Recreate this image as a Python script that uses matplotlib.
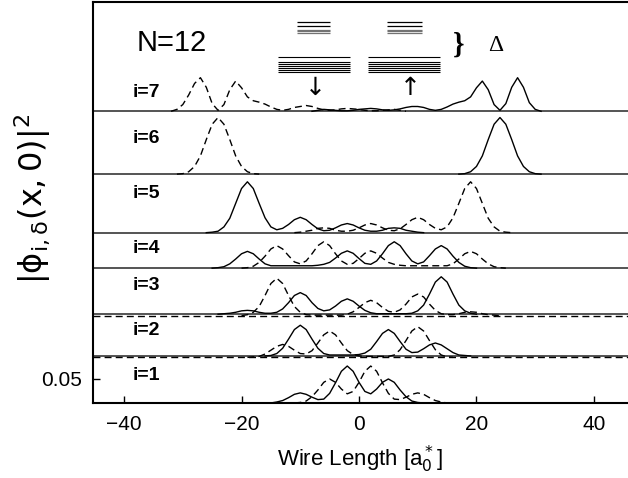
import numpy as np
import matplotlib.pyplot as plt

plt.rcParams['font.family'] = ['Liberation Sans', 'DejaVu Sans']

levels = [1, 2, 3, 4, 5, 6, 7]
offsets = [0.0, 0.098, 0.185, 0.281, 0.355, 0.477, 0.608]
dash_shift = [0.0, -0.003, -0.003, 0.0, 0.0, 0.0, 0.0]
label_y = [0.058, 0.152, 0.244, 0.323, 0.4375, 0.552, 0.648]

# curves sampled every 1 a0*, first x of each list below
solid_start = [-16, -16, -24, -25, -26, 17, -8]
dashed_start = [-11, -19, -20, -20, -11, -31, -32]

solid_1 = [0, 0, .002, .005, .011, .018, .021, .018, .012, .007, .008, .020, .042, .066,
           .077, .066, .043, .024, .019, .029, .043, .050, .043, .027, .013, .004, .001, 0]
dashed_1 = [0, .001, .004, .013, .027, .043, .050, .043, .029, .019, .024, .043, .066, .077,
            .066, .042, .020, .008, .007, .012, .018, .021, .018, .011, .005, .002, 0, 0]

solid_2 = [0, .001, .005, .016, .035, .055, .064, .055, .035, .016, .005, .002, .002, .002,
           .002, .002, .003, .006, .014, .030, .047, .055, .047, .030, .014, .007, .008, .015,
           .023, .027, .023, .015, .007, .002, .001, 0]
dashed_2 = [0, .001, .002, .007, .015, .023, .027, .023, .015, .008, .007, .014, .030, .047,
            .055, .047, .030, .014, .006, .003, .002, .002, .002, .002, .002, .005, .016, .035,
            .055, .064, .055, .035, .016, .005, .001, 0]

solid_3 = [0, .001, .002, .004, .007, .008, .007, .004, .002, .002, .004, .011, .024, .039,
           .045, .039, .024, .012, .007, .009, .017, .027, .032, .027, .017, .008, .003, .001,
           .001, .001, .001, .001, .001, .002, .007, .019, .042, .067, .078, .067, .042, .019,
           .007, .002, 0]
dashed_3 = [0, .002, .007, .019, .042, .067, .078, .067, .042, .019, .007, .002, .001, .001,
            .001, .001, .001, .001, .003, .008, .017, .027, .032, .027, .017, .009, .007, .012,
            .024, .039, .045, .039, .024, .011, .004, .002, .002, .004, .007, .008, .007, .004,
            .002, .001, 0]

solid_4 = [0, .001, .003, .009, .019, .030, .035, .030, .019, .009, .005, .005, .005, .005,
           .005, .005, .005, .005, .006, .008, .012, .021, .031, .036, .031, .020, .010, .008,
           .015, .030, .047, .055, .047, .030, .015, .009, .013, .026, .040, .047, .040, .025,
           .012, .004, .001, 0]
dashed_4 = [0, .001, .004, .012, .025, .040, .047, .040, .026, .013, .009, .015, .030, .047,
            .055, .047, .030, .015, .008, .010, .020, .031, .036, .031, .021, .012, .008, .006,
            .005, .005, .005, .005, .005, .005, .005, .005, .009, .019, .030, .035, .030, .019,
            .009, .003, .001, 0]

solid_5 = [0, .001, .003, .012, .030, .061, .092, .106, .092, .061, .031, .012, .006, .009,
           .017, .027, .032, .027, .017, .008, .004, .005, .010, .016, .019, .016, .010, .005,
           .003, .003, .005, .009, .010, .009, .005, .003, .001, 0]
dashed_5 = [0, .001, .003, .005, .009, .010, .009, .005, .003, .003, .005, .010, .016, .019,
            .016, .010, .005, .004, .008, .017, .027, .032, .027, .017, .009, .006, .012, .031,
            .061, .092, .106, .092, .061, .030, .012, .003, .001, 0]

solid_6 = [0, .001, .005, .016, .038, .072, .104, .118, .104, .072, .038, .016, .005, .001, 0]
dashed_6 = [0, .001, .005, .016, .038, .072, .104, .118, .104, .072, .038, .016, .005, .001, 0]

solid_7 = [0, .002, .004, .003, .002, .001, .001, .002, .004, .005, .006, .005, .003, .002,
           .003, .005, .008, .010, .010, .008, .004, .002, .004, .009, .015, .019, .022, .030,
           .049, .063, .045, .014, .002, .016, .050, .070, .050, .018, .004, 0]
dashed_7 = [0, .004, .014, .034, .058, .070, .050, .016, .002, .014, .045, .063, .049, .030,
            .022, .019, .015, .009, .004, .002, .004, .008, .010, .012, .010, .006, .003, .002,
            .003, .005, .006, .005, .004, .002, .001, .001, .002, .003, .004, .002, 0]

solids = [solid_1, solid_2, solid_3, solid_4, solid_5, solid_6, solid_7]
dasheds = [dashed_1, dashed_2, dashed_3, dashed_4, dashed_5, dashed_6, dashed_7]

# level scheme sketch at the top
lev_top = [0.7944, 0.7854, 0.7781, 0.7744, 0.7708]
lev_top_col = ['k', 'k', '0.45', '0.45', '0.45']
lev_bot = [0.7215, 0.7115, 0.7073, 0.7031, 0.6990, 0.6948, 0.6906]

fig = plt.figure(figsize=(6.28, 4.78), dpi=100)
ax = fig.add_axes([0.148, 0.157, 0.852, 0.839])

for k in range(len(levels)):
    off = offsets[k]
    ax.axhline(off, color='0.15', lw=1.1)
    if dash_shift[k] != 0:
        ax.axhline(off + dash_shift[k], color='k', lw=1.0, ls=(0, (5, 3)))
    ys = np.array(solids[k])
    xs = solid_start[k] + np.arange(len(ys))
    ax.plot(xs, off + ys, color='k', lw=1.0)
    yd = np.array(dasheds[k])
    xd = dashed_start[k] + np.arange(len(yd))
    ax.plot(xd, off + dash_shift[k] + yd, color='k', lw=1.0, ls=(0, (5, 3)))
    ax.text(-38.6, label_y[k], f'i={levels[k]}', fontsize=14, va='center', ha='left',
            fontweight='bold')

ax.text(-37.8, 0.750, 'N=12', fontsize=21, va='center', ha='left')

for y, c in zip(lev_top, lev_top_col):
    ax.hlines(y, -10.6, -4.9, color=c, lw=0.9)
    ax.hlines(y, 4.7, 10.7, color=c, lw=0.9)
for y in lev_bot:
    ax.hlines(y, -13.8, -1.6, color='k', lw=0.8)
    ax.hlines(y, 1.5, 13.8, color='k', lw=0.8)
ax.text(-7.5, 0.657, '\u2193', fontsize=18, ha='center', va='center', family='DejaVu Sans')
ax.text(8.7, 0.657, '\u2191', fontsize=18, ha='center', va='center', family='DejaVu Sans')
ax.text(17.0, 0.745, '}', fontsize=21, ha='center', va='center', family='Liberation Serif',
        fontweight='bold')
ax.text(23.3, 0.746, '\u0394', fontsize=17, ha='center', va='center', family='Liberation Serif')

ax.set_xlim(-45.3, 45.8)
ax.set_ylim(0, 0.836)
ax.set_xticks([-40, -20, 0, 20, 40])
ax.set_yticks([0.05])
ax.set_yticklabels(['0.05'])
ax.tick_params(direction='in', length=5, labelsize=15, width=1.0)
ax.tick_params(axis='x', pad=9)
ax.tick_params(axis='y', pad=8)
ax.spines['right'].set_visible(False)
for s in ['left', 'top', 'bottom']:
    ax.spines[s].set_linewidth(1.5)

ax.set_xlabel(r'Wire Length [a$_0^*$]', fontsize=16, labelpad=7)
ax.set_ylabel(r'$|\mathrm{\phi}_{\mathrm{i},\mathrm{\delta}}(\mathrm{x},0)|^2$', fontsize=23)
ax.yaxis.set_label_coords(-0.075, 0.51)

fig.savefig('out.png', dpi=100)
